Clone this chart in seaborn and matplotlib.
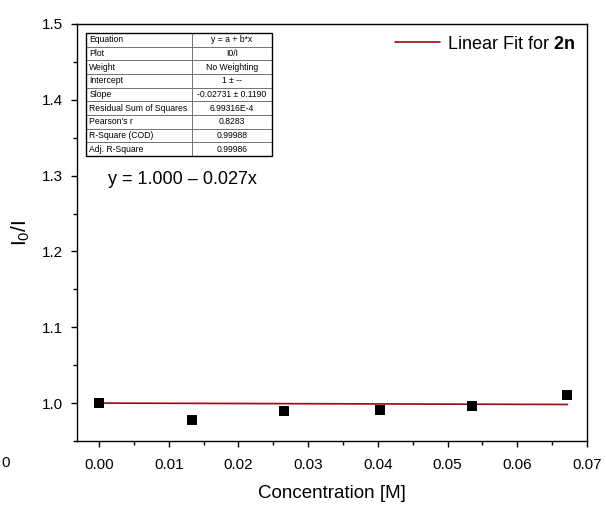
import matplotlib
matplotlib.use("Agg")
import matplotlib.pyplot as plt
import seaborn as sns
import numpy as np
import pandas as pd
from matplotlib.ticker import MultipleLocator, FormatStrFormatter
from matplotlib.patches import Rectangle

conc = [0.0, 0.0134, 0.0265, 0.0403, 0.0535, 0.0672]
ratio = [1.000, 0.978, 0.989, 0.991, 0.996, 1.0105]
fit_intercept = 1.0
fit_slope = -0.02731

table_keys = ["Equation", "Plot", "Weight", "Intercept", "Slope",
              "Residual Sum of Squares", "Pearson's r", "R-Square (COD)", "Adj. R-Square"]
table_vals = ["y = a + b*x", "I0/I", "No Weighting", "1 \u00b1 --", "-0.02731 \u00b1 0.1190",
              "6.99316E-4", "0.8283", "0.99988", "0.99986"]

sns.set_theme(style="white")
plt.rcParams['font.family'] = ['Liberation Sans', 'DejaVu Sans']
plt.rcParams['mathtext.fontset'] = 'custom'
plt.rcParams['mathtext.rm'] = 'Liberation Sans'
plt.rcParams['mathtext.it'] = 'Liberation Sans:italic'
plt.rcParams['mathtext.bf'] = 'Liberation Sans:bold'
for k in ['text.color', 'axes.labelcolor', 'xtick.color', 'ytick.color']:
    plt.rcParams[k] = 'black'

W, H = 606, 507
L, R, T, B = 77, 587, 24, 441
fig = plt.figure(figsize=(6.06, 5.07), dpi=100)
ax = fig.add_axes([L/W, 1-B/H, (R-L)/W, (B-T)/H])

def ax_frac(px, py):
    return (px-L)/(R-L), (B-py)/(B-T)

df = pd.DataFrame({"x": conc, "y": ratio})
sns.scatterplot(data=df, x="x", y="y", marker="s", s=42, color="black",
                edgecolor="black", linewidth=0, ax=ax, zorder=3)

xf = np.array([min(conc), max(conc)])
fit_df = pd.DataFrame({"x": xf, "y": fit_intercept + fit_slope * xf})
sns.lineplot(data=fit_df, x="x", y="y", color="#9c0a0a", lw=1.2, ax=ax,
             label=r"Linear Fit for $\mathbf{2n}$", zorder=2)

ax.set_xlim(-0.00316, 0.07)
ax.set_ylim(0.95, 1.5)
ax.xaxis.set_major_locator(MultipleLocator(0.01))
ax.xaxis.set_minor_locator(MultipleLocator(0.005))
ax.yaxis.set_major_locator(MultipleLocator(0.1))
ax.yaxis.set_minor_locator(MultipleLocator(0.05))
ax.xaxis.set_major_formatter(FormatStrFormatter("%.2f"))
ax.yaxis.set_major_formatter(FormatStrFormatter("%.1f"))
ax.tick_params(axis="both", which="major", direction="out", length=4.5, width=1,
               labelsize=11, colors="black", bottom=True, left=True, top=False, right=False)
ax.tick_params(axis="x", which="major", pad=8)
ax.tick_params(axis="y", which="major", pad=5.5)
ax.tick_params(axis="both", which="minor", direction="out", length=3, width=1,
               colors="black", bottom=True, left=True, top=False, right=False)
for sp in ax.spines.values():
    sp.set_color("black")
    sp.set_linewidth(1.0)

ax.set_xlabel("Concentration [M]", fontsize=13.5, labelpad=9, color="black")
ax.set_ylabel(r"I$_0$/I", fontsize=15, labelpad=7, color="black")

leg = ax.legend(loc="upper right", frameon=False, fontsize=13, handlelength=2.5,
                handletextpad=0.4, borderaxespad=0.35, borderpad=0.3)
for t in leg.get_texts():
    t.set_color("black")

ex, ey = ax_frac(108, 179)
ax.text(ex, ey, "y = 1.000 \u2013 0.027x", transform=ax.transAxes,
        fontsize=13, va="center", ha="left", color="black")

tx0, ty0 = ax_frac(86, 156)
tw, th = (272-86)/(R-L), (156-33)/(B-T)
tbl = ax.table(cellText=[[k, v] for k, v in zip(table_keys, table_vals)],
               colWidths=[0.57, 0.43], cellLoc="center",
               bbox=[tx0, ty0, tw, th])
tbl.auto_set_font_size(False)
tbl.set_fontsize(6.2)
for (r, c), cell in tbl.get_celld().items():
    cell.set_edgecolor("#555555")
    cell.set_linewidth(0.5)
    cell.PAD = 0.03
    cell.get_text().set_color("black")
    if c == 0:
        cell.set_text_props(ha="left")
        cell._loc = "left"
    else:
        cell.set_text_props(ha="center")
ax.add_patch(Rectangle((tx0, ty0), tw, th, transform=ax.transAxes, fill=False,
                       edgecolor="black", lw=1.0, zorder=5))

fig.text(1/W, 1-463/H, "0", fontsize=11, ha="left", va="center", color="black")

fig.savefig("out.png", dpi=100)
